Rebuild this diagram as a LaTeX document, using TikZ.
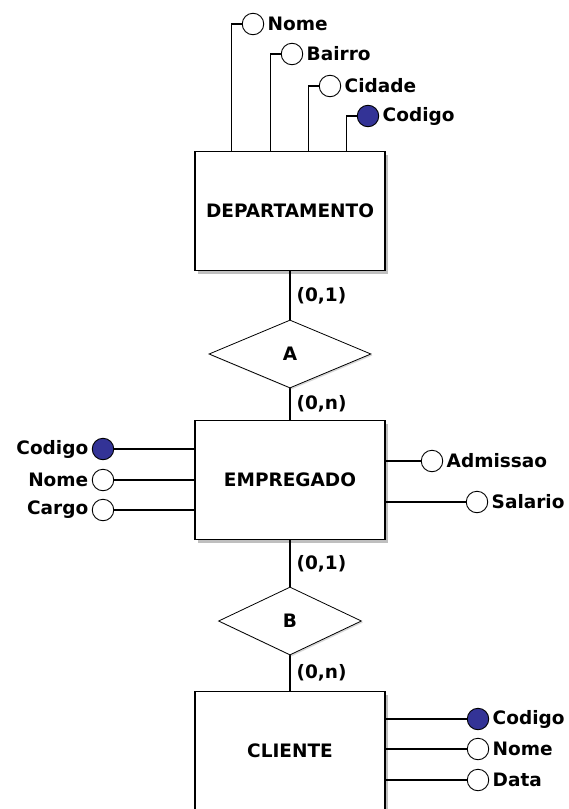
\documentclass[tikz,border=0pt]{standalone}
\usepackage{fontspec}
\setmainfont{DejaVu Sans}
\usepackage{tikz}
\usetikzlibrary{shapes.geometric, shadows}
\definecolor{keyblue}{RGB}{51,51,150}

\begin{document}
\begin{tikzpicture}
	[x=1pt,y=-1pt,line cap=round,
	font=\fontsize{18.5}{22}\selectfont\bfseries,
	%Styles
	entity/.style={draw,line width=1.4pt,fill=white,minimum width=190pt,minimum height=119pt,
		drop shadow={shadow xshift=3pt,shadow yshift=-3pt,fill=black!50}},
	relation/.style={draw,diamond,line width=0.8pt,fill=white,inner sep=0pt,
		drop shadow={shadow xshift=1.5pt,shadow yshift=-1.5pt,fill=black!30}},
	attr/.style={draw,circle,line width=0.9pt,fill=white,minimum size=21.5pt,inner sep=0pt,
		label={[label distance=0pt]#1}},
	keyattr/.style={attr={#1},fill=keyblue},
	link/.style={line width=1.2pt},
	card/.style={right=5pt,inner sep=1pt}
	]
	
	\useasboundingbox (0,0) rectangle (569,809);
	
	%Entities and relations
	\node[entity] (dep) at (290,211) {DEPARTAMENTO};
	\node[relation,minimum width=162pt,minimum height=68pt] (ra) at (290,354) {A};
	\node[entity] (emp) at (290,480) {EMPREGADO};
	\node[relation,minimum width=143pt,minimum height=68pt] (rb) at (290,621) {B};
	\node[entity] (cli) at (290,751) {CLIENTE};
	
	\draw[link] (dep) -- node[card]{(0,1)} (ra);
	\draw[link] (ra) -- node[card]{(0,n)} (emp);
	\draw[link] (emp) -- node[card]{(0,1)} (rb);
	\draw[link] (rb) -- node[card]{(0,n)} (cli);
	
	%Attributes of DEPARTAMENTO
	\node[attr=right:Nome] (dnome) at (253,24) {};
	\node[attr=right:Bairro] (dbairro) at (292,54) {};
	\node[attr=right:Cidade] (dcidade) at (330,86) {};
	\node[keyattr=right:Codigo] (dcod) at (368,116) {};
	\foreach \a in {dnome,dbairro,dcidade,dcod}
		\draw[link] (\a.west) -- ++(-10,0) coordinate (t) -- (t |- dep.north);
	
	%Attributes of EMPREGADO
	\node[keyattr=left:Codigo] (ecod) at (103,449) {};
	\node[attr=left:Nome] (enome) at (103,480) {};
	\node[attr=left:Cargo] (ecargo) at (103,510) {};
	\node[attr=right:Admissao] (eadm) at (432,461) {};
	\node[attr=right:Salario] (esal) at (477,502) {};
	\foreach \a in {ecod,enome,ecargo}
		\draw[link] (\a.east) -- (\a.east -| emp.west);
	\foreach \a in {eadm,esal}
		\draw[link] (emp.east |- \a.west) -- (\a.west);
	
	%Attributes of CLIENTE
	\node[keyattr=right:Codigo] (ccod) at (478,719) {};
	\node[attr=right:Nome] (cnome) at (478,749) {};
	\node[attr=right:Data] (cdata) at (478,780) {};
	\foreach \a in {ccod,cnome,cdata}
		\draw[link] (cli.east |- \a.west) -- (\a.west);
\end{tikzpicture}
\end{document}
